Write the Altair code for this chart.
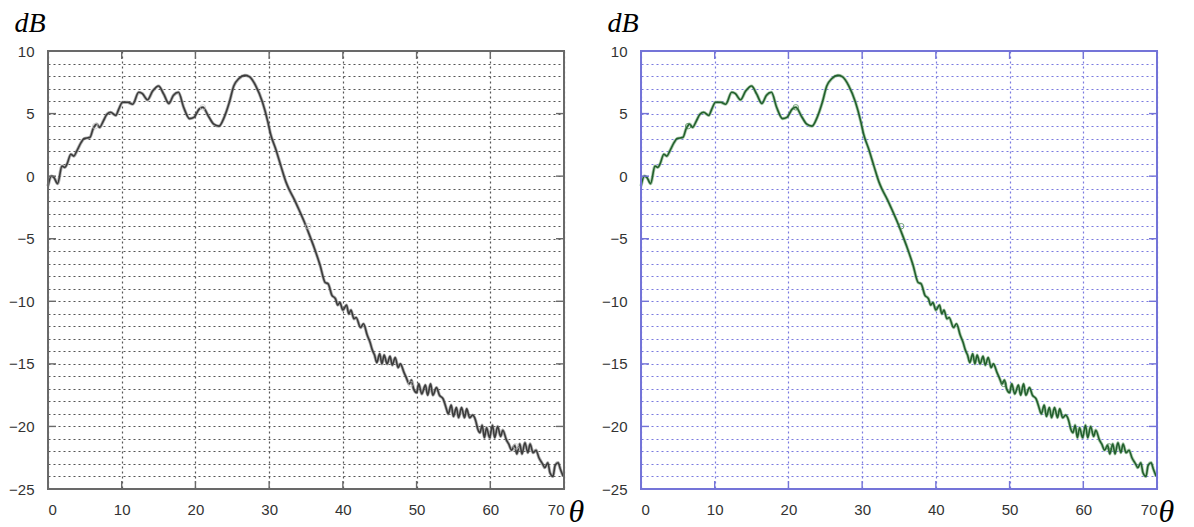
import altair as alt
import pandas as pd

# ---- data (theta in degrees, level in dB) ----
theta = [0, 0.45, 0.8, 1.3, 1.9, 2.3, 2.6, 3.1, 3.5, 3.9, 4.5, 4.9, 5.7, 6.1, 6.6, 7.0,
         7.5, 8.0, 8.5, 9.2, 9.6, 10.1, 10.8, 11.5, 12.3, 12.8, 13.5, 14.2, 15.0, 15.7,
         16.4, 17.0, 17.7, 18.4, 19.2, 19.8, 20.5, 21.0, 21.8, 22.5, 23.2, 23.9, 24.6,
         25.2, 25.9, 26.7, 27.3, 28.2, 29.1, 29.8, 30.2, 30.9, 31.6, 32.3, 32.7, 33.4,
         34.1, 34.8, 35.4, 36.1, 36.9, 37.6, 38.0, 38.5, 39.0, 39.3, 39.6, 40.0, 40.5,
         40.8, 41.1, 41.5, 41.8, 42.4, 42.8, 43.3, 43.7, 44.0, 44.3, 44.6, 45.0, 45.3,
         45.6, 46.0, 46.4, 46.7, 47.1, 47.5, 47.8, 48.3, 48.6, 49.0, 49.3, 49.6, 50.0,
         50.3, 50.7, 51.2, 51.5, 51.9, 52.2, 52.7, 53.1, 53.6, 54.0, 54.3, 54.7, 55.0,
         55.4, 55.7, 56.1, 56.5, 56.8, 57.2, 57.6, 58.0, 58.3, 58.6, 58.9, 59.2, 59.5,
         59.9, 60.3, 60.6, 61.0, 61.4, 61.7, 62.2, 62.5, 62.9, 63.3, 63.6, 64.0, 64.3,
         64.7, 65.1, 65.4, 65.8, 66.2, 66.6, 67.1, 67.4, 67.8, 68.1, 68.5, 68.8, 69.2,
         69.5, 69.9]
db = [-0.8, 0.0, -0.1, -0.6, 0.8, 0.7, 1.0, 1.75, 1.6, 2.0, 2.7, 3.0, 3.1, 3.75, 4.15,
      3.9, 4.4, 4.95, 5.1, 4.85, 5.35, 5.9, 5.9, 5.75, 6.7, 6.6, 6.1, 6.8, 7.2, 6.55,
      5.8, 6.45, 6.7, 5.5, 4.6, 4.7, 5.35, 5.5, 4.75, 4.15, 4.0, 4.7, 5.9, 7.2, 7.8,
      8.05, 7.95, 7.2, 5.9, 4.4, 3.35, 2.15, 0.8, -0.5, -1.05, -1.85, -2.75, -3.7,
      -4.6, -5.7, -7.1, -8.5, -8.6, -9.5, -9.8, -10.3, -10.1, -10.7, -10.3, -11.0,
      -10.7, -11.4, -11.3, -12.1, -11.8, -12.7, -13.3, -13.9, -14.3, -14.9, -14.2,
      -15.0, -14.3, -15.0, -14.4, -15.1, -14.5, -15.3, -15.0, -15.7, -16.1, -16.6,
      -16.3, -17.0, -17.3, -16.6, -17.4, -16.7, -17.5, -16.6, -17.5, -16.9, -17.5,
      -17.8, -18.5, -19.0, -18.3, -19.2, -18.5, -19.3, -18.5, -19.3, -18.6, -19.3,
      -19.1, -19.5, -20.2, -20.5, -19.9, -20.9, -20.1, -20.9, -19.9, -20.9, -20.0,
      -20.8, -20.3, -21.1, -21.4, -21.9, -21.5, -22.2, -21.4, -22.2, -21.3, -22.1,
      -21.4, -22.1, -21.9, -22.5, -23.0, -23.3, -22.9, -23.7, -24.0, -23.1, -22.9,
      -23.4, -24.0]

marker_theta = [6.4, 21.0, 35.3, 49.2, 63.5]
marker_db = [4.0, 5.5, -4.0, -16.6, -21.6]

x_ticks = [0, 10, 20, 30, 40, 50, 60, 70]
y_grid = list(range(-25, 11))
x_inner = [10, 20, 30, 40, 50, 60]
y_inner = [-20, -15, -10, -5, 0, 5]

W, H = 516, 438

curve = pd.DataFrame({"theta": theta, "db": db})
marks = pd.DataFrame({"theta": marker_theta, "db": marker_db})
xt = pd.DataFrame({"theta": x_inner})
yt = pd.DataFrame({"db": y_inner})


def panel(line_color, under_color, frame_color, grid_color, label_color, marker_color,
          theta_dx):
    xs = alt.Scale(domain=[0, 70], nice=False, zero=False)
    ys = alt.Scale(domain=[-25, 10], nice=False, zero=False)
    x_axis = alt.Axis(values=x_ticks, grid=True, gridDash=[2, 3], gridColor=grid_color,
                      gridWidth=1.2, gridOpacity=1, ticks=False, domain=False,
                      labelPadding=13, labelFontSize=15, labelFont="Liberation Sans",
                      labelColor=label_color, title="θ", titleX=W + theta_dx, titleY=22,
                      titleAlign="left", titleBaseline="middle", titleFont="Liberation Serif",
                      titleFontStyle="italic", titleFontWeight="normal", titleFontSize=32,
                      titleColor="#000000")
    y_axis = alt.Axis(values=y_grid, grid=True, gridDash=[2, 3], gridColor=grid_color,
                      gridWidth=1.2, gridOpacity=1, ticks=False, domain=False,
                      labelExpr="datum.value % 5 === 0 ? datum.label : ''",
                      labelPadding=14, labelFontSize=15, labelFont="Liberation Sans",
                      labelColor=label_color, labelOverlap=False,
                      title="dB", titleAngle=0, titleX=-34, titleY=-28, titleAlign="left",
                      titleBaseline="middle", titleFont="Liberation Serif",
                      titleFontStyle="italic", titleFontWeight="normal", titleFontSize=28,
                      titleColor="#000000")
    X = alt.X("theta:Q", scale=xs, axis=x_axis)
    Y = alt.Y("db:Q", scale=ys, axis=y_axis)

    under = alt.Chart(curve).mark_line(color=under_color, strokeWidth=3.2, opacity=0.55,
                                       interpolate="monotone").encode(x=X, y=Y)
    line = alt.Chart(curve).mark_line(color=line_color, strokeWidth=1.6,
                                      interpolate="monotone").encode(x=X, y=Y)
    pts = alt.Chart(marks).mark_point(shape="circle", filled=False, size=30,
                                      color=marker_color, strokeWidth=1).encode(x=X, y=Y)
    frame = alt.Chart(curve).mark_rect(fill=None, stroke=frame_color, strokeWidth=1.6).encode(
        x=alt.value(0), x2=alt.value(W), y=alt.value(0), y2=alt.value(H))
    tick_style = dict(color=frame_color, strokeWidth=1.4)
    t_bot = alt.Chart(xt).mark_rule(**tick_style).encode(
        x=X, y=alt.value(H - 8), y2=alt.value(H))
    t_top = alt.Chart(xt).mark_rule(**tick_style).encode(
        x=X, y=alt.value(0), y2=alt.value(8))
    t_left = alt.Chart(yt).mark_rule(**tick_style).encode(
        y=Y, x=alt.value(0), x2=alt.value(8))
    t_right = alt.Chart(yt).mark_rule(**tick_style).encode(
        y=Y, x=alt.value(W - 8), x2=alt.value(W))
    return alt.layer(under, line, pts, t_bot, t_top, t_left, t_right, frame).properties(
        width=W, height=H)


left = panel("#3c3c3c", "#6e6e6e", "#6a6a6a", "#555555", "#333333", "#c8c8c8", 4)
right = panel("#225f2c", "#5f9d63", "#7474d8", "#7a7ae0", "#333333", "#3a7a44", 1)

chart = alt.hconcat(left, right, spacing=77, bounds="flush").properties(
    padding={"left": 0, "top": 0, "right": 0, "bottom": 0}
).configure_view(strokeWidth=0).configure(background="#ffffff")

chart.save("out.html", embed_options={"renderer": "svg", "actions": False})
